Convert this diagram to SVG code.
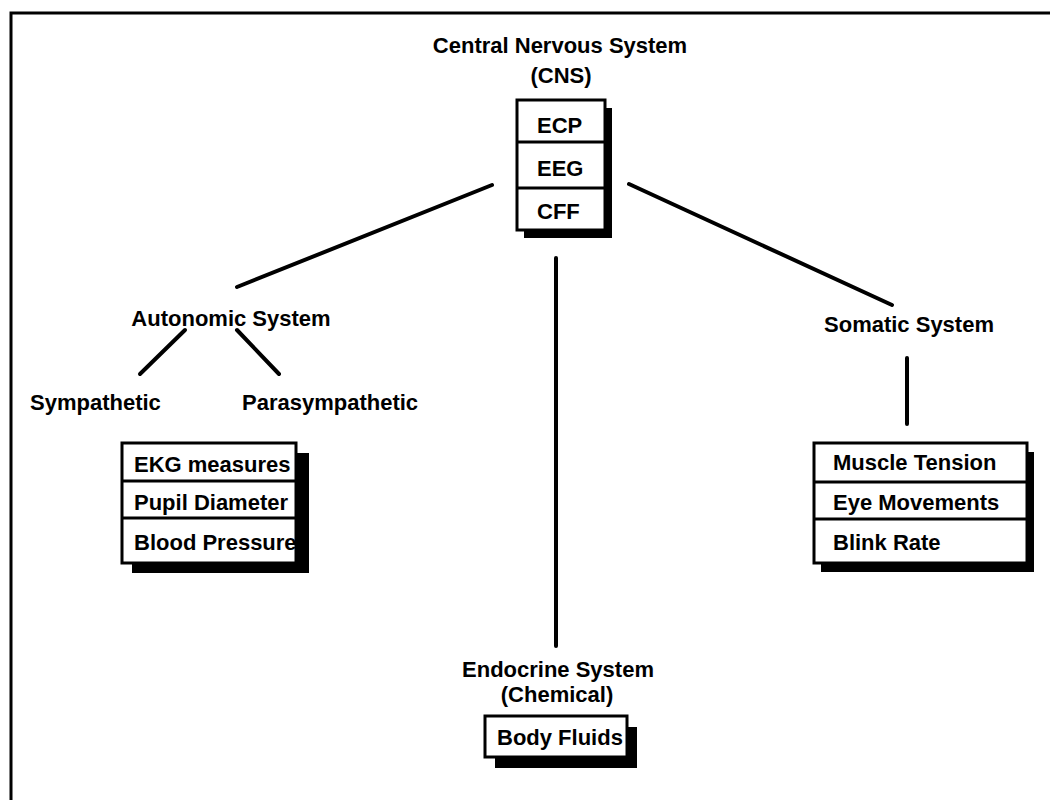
<svg xmlns="http://www.w3.org/2000/svg" width="1050" height="800" viewBox="0 0 1050 800">
  <style>
    .lbl { font-family: "Liberation Sans", Arial, Helvetica, sans-serif; font-weight: bold; font-size: 22px; fill: #000; }
    .mid { text-anchor: middle; }
    .box { fill: #fff; stroke: #000; stroke-width: 3; }
    .shadow { fill: #000; }
    .div { stroke: #000; stroke-width: 3; }
    .conn { stroke: #000; stroke-width: 4; stroke-linecap: round; fill: none; }
    .frame { stroke: #000; stroke-width: 3; fill: none; }
  </style>
  <defs>
    <clipPath id="clipEkg"><rect x="122" y="443" width="173" height="120"/></clipPath>
  </defs>
  <rect width="1050" height="800" fill="#fff"/>

  <!-- page frame: top rule and left rule -->
  <path class="frame" d="M11,800 V13 H1050"/>

  <!-- connectors -->
  <g id="connectors">
    <line class="conn" x1="492" y1="185" x2="237" y2="287"/>
    <line class="conn" x1="629" y1="184" x2="892" y2="305"/>
    <line class="conn" x1="556" y1="258" x2="556" y2="646"/>
    <line class="conn" x1="185" y1="330" x2="140" y2="374"/>
    <line class="conn" x1="237" y1="330" x2="279" y2="374"/>
    <line class="conn" x1="907" y1="358" x2="907" y2="424"/>
  </g>

  <!-- Central Nervous System -->
  <g id="cns">
    <text class="lbl mid" x="560" y="53">Central Nervous System</text>
    <text class="lbl mid" x="561" y="83">(CNS)</text>
    <rect class="shadow" x="524" y="108" width="88" height="130"/>
    <rect class="box" x="517" y="100" width="88" height="130"/>
    <line class="div" x1="517" y1="142" x2="605" y2="142"/>
    <line class="div" x1="517" y1="188" x2="605" y2="188"/>
    <text class="lbl" x="537" y="133">ECP</text>
    <text class="lbl" x="537" y="176">EEG</text>
    <text class="lbl" x="537" y="219">CFF</text>
  </g>

  <!-- Autonomic System -->
  <g id="autonomic">
    <text class="lbl mid" x="231" y="326">Autonomic System</text>
  </g>
  <g id="sympathetic">
    <text class="lbl" x="30" y="410">Sympathetic</text>
  </g>
  <g id="parasympathetic">
    <text class="lbl" x="242" y="410">Parasympathetic</text>
  </g>
  <g id="autonomic-measures">
    <rect class="shadow" x="132" y="453" width="177" height="120"/>
    <rect class="box" x="122" y="443" width="174" height="120"/>
    <line class="div" x1="122" y1="481" x2="296" y2="481"/>
    <line class="div" x1="122" y1="518" x2="296" y2="518"/>
    <g clip-path="url(#clipEkg)">
      <text class="lbl" x="134" y="472">EKG measures</text>
      <text class="lbl" x="134" y="510">Pupil Diameter</text>
      <text class="lbl" x="134" y="550">Blood Pressure</text>
    </g>
  </g>

  <!-- Somatic System -->
  <g id="somatic">
    <text class="lbl mid" x="909" y="332">Somatic System</text>
  </g>
  <g id="somatic-measures">
    <rect class="shadow" x="821" y="452" width="213" height="120"/>
    <rect class="box" x="814" y="443" width="213" height="120"/>
    <line class="div" x1="814" y1="482" x2="1027" y2="482"/>
    <line class="div" x1="814" y1="519" x2="1027" y2="519"/>
    <text class="lbl" x="833" y="470">Muscle Tension</text>
    <text class="lbl" x="833" y="510">Eye Movements</text>
    <text class="lbl" x="833" y="550">Blink Rate</text>
  </g>

  <!-- Endocrine System -->
  <g id="endocrine">
    <text class="lbl mid" x="558" y="677">Endocrine System</text>
    <text class="lbl mid" x="557" y="702">(Chemical)</text>
  </g>
  <g id="endocrine-measures">
    <rect class="shadow" x="495" y="727" width="142" height="41"/>
    <rect class="box" x="485" y="716" width="142" height="41"/>
    <text class="lbl" x="497" y="745">Body Fluids</text>
  </g>
</svg>
